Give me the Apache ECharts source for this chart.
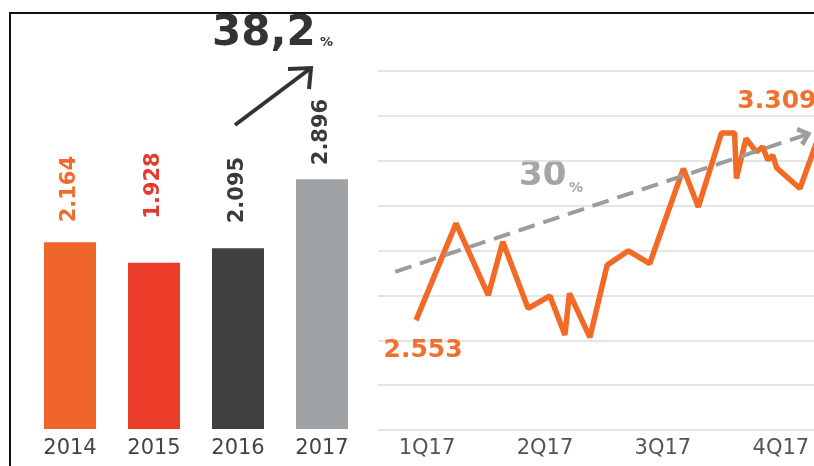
<!DOCTYPE html>
<html>
<head>
<meta charset="utf-8">
<script src="https://cdn.jsdelivr.net/npm/echarts@6/dist/echarts.min.js"></script>
<style>
    html, body { margin: 0; padding: 0; background: #fff; overflow: hidden; }
    #wrap { position: relative; width: 814px; height: 466px; overflow: hidden; }
    #main { position: absolute; left: 0; top: 0; width: 880px; height: 466px; }
    #frame { position: absolute; left: 9px; top: 12px; right: -10px; bottom: -10px;
             border-top: 2px solid #111; border-left: 2px solid #111; pointer-events: none; }
</style>
</head>
<body>
<div id="wrap">
    <div id="main"></div>
    <div id="frame"></div>
</div>
<script>
// 年度数据
const years = ['2014', '2015', '2016', '2017'];
const yearValues = [2.164, 1.928, 2.095, 2.896];

// 2017 周度走势 (x = 距 1Q17 的周数)
const quarterLabels = ['1Q17', '2Q17', '3Q17', '4Q17'];
const quarterWeeks = [0, 13, 26, 39];
const weekX = [-1.2, 3.2, 6.75, 8.35, 11.15, 13.55, 15.2, 15.7, 17.95, 19.85, 22.2, 24.55,
    28.25, 29.9, 32.45, 33.9, 34.1, 35.15, 36.3, 37.0, 37.55, 38.1, 38.55, 41.1, 43.85];
const weekValues = [2.553, 2.917, 2.647, 2.848, 2.597, 2.644, 2.497, 2.654, 2.488, 2.760, 2.814, 2.766,
    3.123, 2.979, 3.257, 3.257, 3.086, 3.236, 3.186, 3.205, 3.155, 3.173, 3.125, 3.048, 3.309];

// 趋势箭头起止 (周, 值)
const trendStart = [-3.5, 2.735];
const trendEnd = [41.65, 3.249];

const barColors = ['#f0662a', '#eb3d2a', '#404040', '#a0a3a6'];
const labelColors = ['#f06a2a', '#e8392b', '#3a3a3a', '#3a3a3a'];
const labelGaps = [20, 44, 25, 14];
const FONT = 'DejaVu Sans';

const chart = echarts.init(document.getElementById('main'));

// 首尾两点显示数值
const lineData = weekX.map((x, i) => {
    const item = { value: [x, weekValues[i]] };
    if (i === 0) {
        item.label = { show: true, position: 'bottom', offset: [7, 12] };
    } else if (i === weekX.length - 1) {
        item.label = { show: true, position: 'top', offset: [-48, 0] };
    }
    return item;
});

const option = {
    animation: false,
    grid: [
        { left: 28, right: 516, top: 84, bottom: 37 },
        { left: 378, right: 12, top: 71, bottom: 36 }
    ],
    xAxis: [
        {
            type: 'category',
            gridIndex: 0,
            data: years,
            axisLine: { show: false },
            axisTick: { show: false },
            axisLabel: { color: '#444', fontSize: 21, fontFamily: FONT, margin: 9 }
        },
        {
            type: 'value',
            gridIndex: 1,
            min: -5.4,
            max: 48.6,
            axisLine: { show: false },
            axisTick: { show: false },
            splitLine: { show: false },
            axisLabel: {
                customValues: quarterWeeks,
                color: '#555',
                fontSize: 21,
                fontFamily: FONT,
                margin: 8,
                formatter: v => quarterLabels[quarterWeeks.indexOf(v)]
            }
        }
    ],
    yAxis: [
        { type: 'value', gridIndex: 0, min: 0, max: 4, show: false },
        { type: 'value', gridIndex: 1, min: 2.14, max: 3.49, show: false },
        {
            // 只用来画横向网格线
            type: 'value',
            gridIndex: 1,
            min: 0,
            max: 8,
            interval: 1,
            axisLine: { show: false },
            axisTick: { show: false },
            axisLabel: { show: false },
            splitLine: { lineStyle: { color: '#dcdcdc', width: 1.5 } }
        }
    ],
    series: [
        {
            type: 'bar',
            xAxisIndex: 0,
            yAxisIndex: 0,
            barWidth: 52,
            data: yearValues.map((v, i) => ({
                value: v,
                itemStyle: { color: barColors[i] },
                label: { color: labelColors[i], distance: labelGaps[i] }
            })),
            label: {
                show: true,
                position: 'top',
                rotate: 90,
                align: 'left',
                verticalAlign: 'middle',
                fontSize: 21,
                fontWeight: 'bold',
                fontFamily: FONT,
                formatter: p => p.value.toFixed(3)
            }
        },
        {
            type: 'line',
            xAxisIndex: 1,
            yAxisIndex: 1,
            data: lineData,
            symbol: 'circle',
            symbolSize: 1,
            showSymbol: true,
            itemStyle: { color: '#f26a25' },
            lineStyle: { color: '#f26a25', width: 5.5 },
            label: {
                color: '#f0712e',
                fontSize: 25,
                fontWeight: 'bold',
                fontFamily: FONT,
                formatter: p => p.value[1].toFixed(3)
            },
            markLine: {
                silent: true,
                animation: false,
                symbol: ['none', 'path://M0,12 L10,0 L20,12 L16,15 L10,7 L4,15 Z'],
                symbolSize: [20, 14],
                label: { show: false },
                lineStyle: { color: '#9a9c9e', width: 4, type: [17, 9] },
                data: [[{ coord: trendStart }, { coord: trendEnd }]]
            }
        }
    ],
    graphic: [
        {
            type: 'text', x: 212, y: 13,
            style: { text: '38,2', fill: '#333', font: 'bold 42px "DejaVu Sans"', verticalAlign: 'top' }
        },
        {
            type: 'text', x: 320, y: 36,
            style: { text: '%', fill: '#333', font: 'bold 13px "DejaVu Sans"', verticalAlign: 'top' }
        },
        {
            type: 'line',
            shape: { x1: 235, y1: 125, x2: 311, y2: 68 },
            style: { stroke: '#333', lineWidth: 4 }
        },
        {
            type: 'polyline',
            shape: { points: [[288, 69], [311, 68], [309, 89]] },
            style: { stroke: '#333', lineWidth: 4, fill: null }
        },
        {
            type: 'text', x: 519, y: 159,
            style: { text: '30', fill: '#a5a5a5', font: 'bold 34px "DejaVu Sans"', verticalAlign: 'top' }
        },
        {
            type: 'text', x: 569, y: 181,
            style: { text: '%', fill: '#a5a5a5', font: 'bold 14px "DejaVu Sans"', verticalAlign: 'top' }
        }
    ]
};

chart.setOption(option);
</script>
</body>
</html>
